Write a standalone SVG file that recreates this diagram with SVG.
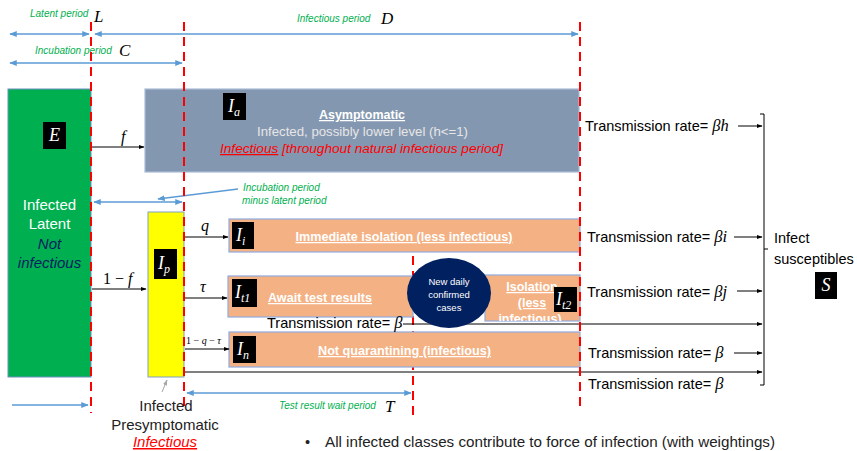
<svg xmlns="http://www.w3.org/2000/svg" width="857" height="451" viewBox="0 0 857 451">
<defs>
<marker id="ab" viewBox="0 0 10 10" refX="9" refY="5" markerWidth="5" markerHeight="5" orient="auto-start-reverse"><path d="M0,1 L10,5 L0,9 z" fill="#5b9bd5"/></marker>
<marker id="ak" viewBox="0 0 10 10" refX="9" refY="5" markerWidth="6" markerHeight="6" orient="auto-start-reverse"><path d="M0,1.5 L10,5 L0,8.5 z" fill="#000"/></marker>
<marker id="ag" viewBox="0 0 10 10" refX="9" refY="5" markerWidth="6" markerHeight="6" orient="auto"><path d="M0,1.5 L10,5 L0,8.5 z" fill="#a6a6a6"/></marker>
<clipPath id="isoclip"><rect x="485" y="275" width="95" height="46"/></clipPath>
</defs>
<style>
.sans{font-family:"Liberation Sans",Arial,sans-serif}
.math{font-family:"Liberation Serif","DejaVu Serif",serif;font-style:italic}
.up{font-style:normal}
.gr{font-family:"Liberation Sans",Arial,sans-serif;font-style:italic;font-size:10px;fill:#00b050}
.red{stroke:#ff0000;stroke-width:2;stroke-dasharray:9 6;fill:none}
.blue{stroke:#5b9bd5;stroke-width:1.5;fill:none}
.blk{stroke:#000;stroke-width:1;fill:none}
.sq{fill:#000}
.sym{fill:#fff;font-family:"Liberation Serif","DejaVu Serif",serif;font-style:italic;font-size:18px}
.sub{font-size:12px}
.orange{fill:#f4b183;stroke:#8faadc;stroke-width:1.2}
.wb{fill:#fff;font-family:"Liberation Sans",Arial,sans-serif;font-weight:bold;font-size:12.5px;text-decoration:underline}
.tr{font-family:"Liberation Sans",Arial,sans-serif;font-size:14.5px;fill:#000}
.beta{font-family:"Liberation Serif","DejaVu Serif",serif;font-style:italic;font-size:16.5px}
</style>

<!-- period annotations -->
<g id="periods">
<text class="gr" x="30" y="17">Latent period</text>
<text class="math" x="94" y="22" font-size="17">L</text>
<text class="gr" x="297" y="22">Infectious period</text>
<text class="math" x="381" y="24" font-size="17">D</text>
<text class="gr" x="35" y="54">Incubation period</text>
<text class="math" x="119" y="56" font-size="17">C</text>
<line class="blue" x1="10" y1="34" x2="89" y2="34" marker-start="url(#ab)" marker-end="url(#ab)"/>
<line class="blue" x1="95" y1="34" x2="578" y2="34" marker-start="url(#ab)" marker-end="url(#ab)"/>
<line class="blue" x1="10" y1="63" x2="182" y2="63" marker-start="url(#ab)" marker-end="url(#ab)"/>
<line class="blue" x1="94" y1="202" x2="182" y2="202" marker-start="url(#ab)" marker-end="url(#ab)"/>
<line class="blue" x1="238" y1="189" x2="158" y2="199" stroke-width="1" marker-end="url(#ab)"/>
<text class="gr" x="243" y="191" font-size="9.5">Incubation period</text>
<text class="gr" x="242" y="204" font-size="9.5">minus latent period</text>
<line class="blue" x1="12" y1="405" x2="88" y2="405" marker-end="url(#ab)"/>
<line class="blue" x1="187" y1="393" x2="411" y2="393" marker-start="url(#ab)" marker-end="url(#ab)"/>
<text class="gr" x="279" y="409" font-size="9.5">Test result wait period</text>
<text class="math" x="385" y="412" font-size="17">T</text>
</g>

<!-- divider behind the lower boxes -->
<g id="divider-test">
<line class="red" x1="413" y1="256" x2="413" y2="419"/>
</g>

<!-- nodes -->
<g id="E">
<rect x="8" y="89" width="83" height="288" fill="#00b050" stroke="#6d8fc0" stroke-width="1"/>
<rect class="sq" x="43" y="122" width="23" height="27"/>
<text class="sym" x="54.5" y="141" text-anchor="middle" font-size="15">E</text>
<text class="sans" x="49.5" y="210" font-size="15" fill="#fff" text-anchor="middle">Infected</text>
<text class="sans" x="49.5" y="229" font-size="15" fill="#fff" text-anchor="middle">Latent</text>
<text class="sans" x="49.5" y="249" font-size="15" fill="#002060" font-style="italic" text-anchor="middle">Not</text>
<text class="sans" x="49.5" y="268" font-size="15" fill="#002060" font-style="italic" text-anchor="middle">infectious</text>
</g>

<g id="Ia">
<rect x="145" y="89" width="434" height="83" fill="#8497b0" stroke="#a9bcd8" stroke-width="1.2"/>
<rect class="sq" x="223" y="93" width="23" height="27"/>
<text class="sym" x="228" y="112">I<tspan class="sub" dy="4">a</tspan></text>
<text class="wb" x="362" y="119" text-anchor="middle">Asymptomatic</text>
<text class="sans" x="257" y="136" font-size="12.5" fill="#e7e6e6" textLength="211" lengthAdjust="spacingAndGlyphs">Infected, possibly lower level (h&lt;=1)</text>
<text class="sans" x="220" y="153" font-size="12.5" fill="#ff0000" font-style="italic" textLength="283" lengthAdjust="spacingAndGlyphs"><tspan text-decoration="underline">Infectious</tspan> [throughout natural infectious period]</text>
</g>

<g id="Ip">
<rect x="148" y="212" width="36" height="165" fill="#ffff00" stroke="#7f9fc8" stroke-width="1"/>
<rect class="sq" x="154" y="249" width="23" height="30"/>
<text class="sym" x="158" y="269">I<tspan class="sub" dy="4">p</tspan></text>
</g>

<g id="Ii">
<rect class="orange" x="229" y="219" width="351" height="33"/>
<rect class="sq" x="232" y="222" width="22" height="27"/>
<text class="sym" x="236" y="241">I<tspan class="sub" dy="4">i</tspan></text>
<text class="wb" x="404" y="241" text-anchor="middle" textLength="217" lengthAdjust="spacingAndGlyphs">Immediate isolation (less infectious)</text>
</g>

<g id="It1">
<rect class="orange" x="228" y="276" width="185" height="41"/>
<rect class="sq" x="232" y="279" width="25" height="28"/>
<text class="sym" x="235" y="298">I<tspan class="sub" dy="4">t1</tspan></text>
<text class="wb" x="268" y="302" textLength="104" lengthAdjust="spacingAndGlyphs">Await test results</text>
</g>

<g id="It2">
<rect class="orange" x="485" y="275" width="95" height="46"/>
<g clip-path="url(#isoclip)">
<text class="wb" x="532" y="291" text-anchor="middle" font-size="13">Isolation</text>
<text class="wb" x="532" y="307" text-anchor="middle" font-size="13">(less</text>
<text class="wb" x="530" y="323" text-anchor="middle" font-size="13">infectious)</text>
</g>
<rect class="sq" x="554" y="287" width="23" height="25"/>
<text class="sym" x="556" y="305">I<tspan class="sub" dy="4">t2</tspan></text>
</g>

<g id="In">
<rect class="orange" x="229" y="332" width="351" height="35"/>
<rect class="sq" x="233" y="336" width="23" height="27"/>
<text class="sym" x="237" y="355">I<tspan class="sub" dy="4">n</tspan></text>
<text class="wb" x="404.5" y="355" text-anchor="middle" textLength="173" lengthAdjust="spacingAndGlyphs">Not quarantining (infectious)</text>
</g>

<g id="S">
<text class="tr" x="774" y="243">Infect</text>
<text class="tr" x="774" y="264">susceptibles</text>
<rect class="sq" x="815" y="272" width="22" height="27"/>
<text class="sym" x="826" y="291" text-anchor="middle" font-size="15">S</text>
</g>

<!-- connectors -->
<g id="connectors">
<line class="blk" x1="91" y1="147" x2="144" y2="147" marker-end="url(#ak)"/>
<text class="math" x="121" y="142" font-size="16">f</text>
<line class="blk" x1="92" y1="289" x2="146" y2="289" marker-end="url(#ak)"/>
<text class="math" x="103" y="284" font-size="16"><tspan class="up">1 − </tspan>f</text>
<line class="blk" x1="185" y1="237" x2="228" y2="237" marker-end="url(#ak)"/>
<text class="math" x="201" y="231" font-size="16">q</text>
<line class="blk" x1="185" y1="298" x2="227" y2="298" marker-end="url(#ak)"/>
<text class="math" x="200" y="292" font-size="16">τ</text>
<line class="blk" x1="185" y1="349" x2="229" y2="349" marker-end="url(#ak)"/>
<text class="math" x="186" y="344" font-size="10"><tspan class="up">1 − </tspan>q<tspan class="up"> − </tspan>τ</text>
<line class="blk" x1="184" y1="372" x2="762" y2="372" marker-end="url(#ak)"/>
<line class="blk" x1="403" y1="324" x2="762" y2="324" marker-end="url(#ak)"/>
<line class="blk" x1="738" y1="126" x2="762" y2="126" marker-end="url(#ak)"/>
<line class="blk" x1="734" y1="237" x2="762" y2="237" marker-end="url(#ak)"/>
<line class="blk" x1="737" y1="291" x2="762" y2="291" marker-end="url(#ak)"/>
<line class="blk" x1="734" y1="353" x2="762" y2="353" marker-end="url(#ak)"/>
<path class="blk" d="M760,114 H764 V385 H760 M764,249 H768"/>
<line x1="162" y1="392" x2="167" y2="380" stroke="#a6a6a6" stroke-width="1" marker-end="url(#ag)"/>
<text class="tr" x="585" y="131">Transmission rate= <tspan class="beta">βh</tspan></text>
<text class="tr" x="587" y="242">Transmission rate= <tspan class="beta">βi</tspan></text>
<text class="tr" x="587" y="297">Transmission rate= <tspan class="beta">βj</tspan></text>
<text class="tr" x="267" y="328">Transmission rate= <tspan class="beta">β</tspan></text>
<text class="tr" x="588" y="358">Transmission rate= <tspan class="beta">β</tspan></text>
<text class="tr" x="588" y="389">Transmission rate= <tspan class="beta">β</tspan></text>
</g>

<g id="newdaily">
<ellipse cx="449" cy="293" rx="42" ry="35" fill="#002060"/>
<text class="sans" x="449" y="285" font-size="9.5" fill="#fff" text-anchor="middle">New daily</text>
<text class="sans" x="449" y="298" font-size="9.5" fill="#fff" text-anchor="middle">confirmed</text>
<text class="sans" x="449" y="311" font-size="9.5" fill="#fff" text-anchor="middle">cases</text>
</g>

<g id="dividers">
<line class="red" x1="91" y1="22" x2="91" y2="413"/>
<line class="red" x1="184" y1="22" x2="184" y2="409"/>
<line class="red" x1="580" y1="22" x2="580" y2="410"/>
</g>

<g id="notes">
<text class="sans" x="166" y="411" font-size="15" fill="#222" text-anchor="middle">Infected</text>
<text class="sans" x="165" y="430" font-size="15" fill="#222" text-anchor="middle">Presymptomatic</text>
<text class="sans" x="165" y="447" font-size="15" fill="#ff0000" font-style="italic" text-decoration="underline" text-anchor="middle">Infectious</text>
<text class="sans" x="305" y="447" font-size="14.5" fill="#222">•</text>
<text class="sans" x="325" y="447" font-size="14.5" fill="#222" textLength="450" lengthAdjust="spacingAndGlyphs">All infected classes contribute to force of infection (with weightings)</text>
</g>
</svg>
